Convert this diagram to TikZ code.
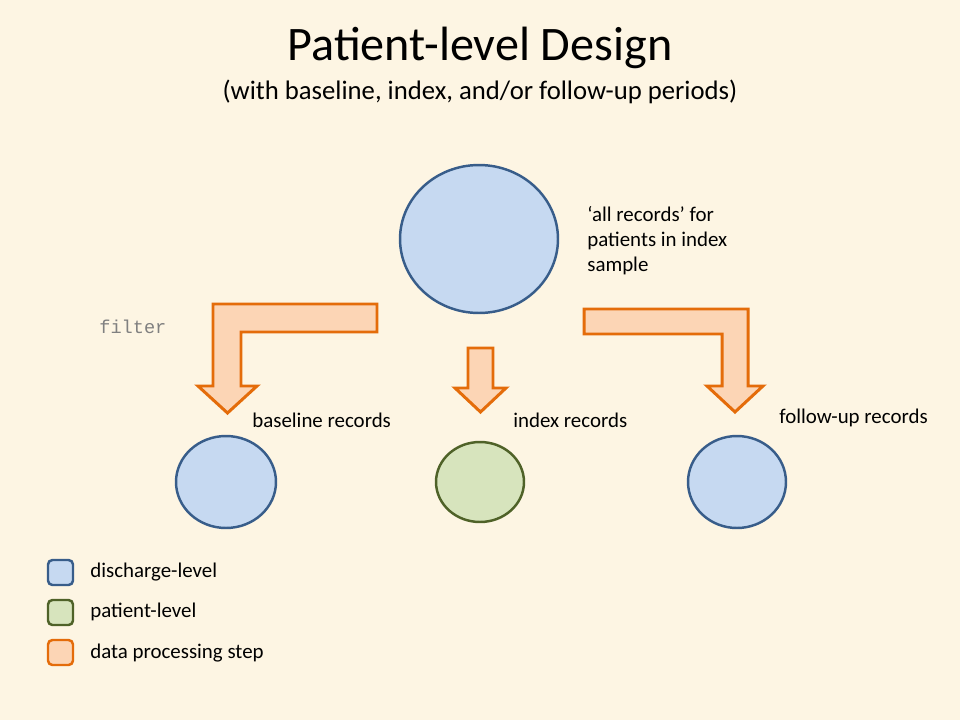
\documentclass[tikz,border=0pt]{standalone}
\usepackage{fontspec}
\setmainfont{Carlito}
\setmonofont{Liberation Mono}
\usetikzlibrary{shapes.geometric, positioning}
\definecolor{paper}{HTML}{FDF5E3}
\definecolor{dischargefill}{HTML}{C6D9F1}
\definecolor{dischargeline}{HTML}{385D8A}
\definecolor{patientfill}{HTML}{D7E4BD}
\definecolor{patientline}{HTML}{4F6228}
\definecolor{stepfill}{HTML}{FCD5B5}
\definecolor{stepline}{HTML}{E46C0A}
\tikzset{
x=0.02cm, y=-0.02cm, % one unit is one pixel of the slide, y runs down
discharge/.style={ellipse, draw=dischargeline, fill=dischargefill, line width=1.4pt, inner sep=0pt}, % discharge-level table
patient/.style={ellipse, draw=patientline, fill=patientfill, line width=1.4pt, inner sep=0pt}, % patient-level table
stepshape/.style={draw=stepline, fill=stepfill, line width=1.7pt, line join=miter}, % block arrow for a processing step
keybox/.style={rectangle, rounded corners=2.5pt, line width=1.4pt, minimum size=0.5cm, inner sep=0pt}, % legend square
label/.style={font=\fontsize{11.9}{14.2}\selectfont, inner sep=0pt, anchor=west}, % plain text next to shapes
}

\begin{document}
\begin{tikzpicture}
\useasboundingbox[fill=paper] (0,0) rectangle (960,720);

\node at (480,48) (title) {\fontsize{27.4}{33}\selectfont Patient-level Design};
\node at (480,92) (subtitle) {\fontsize{15.2}{18}\selectfont (with baseline, index, and/or follow-up periods)};

\node[discharge, minimum width=3.16cm, minimum height=2.96cm] at (479,239) (all) {};
\node[label, align=left, anchor=north west] at (587,206) (alltext) {‘all records’ for\\patients in index\\sample};

\node[discharge, minimum width=2.0cm, minimum height=1.84cm] at (226,482) (base) {};
\node[patient, minimum width=1.76cm, minimum height=1.6cm] at (480,482) (index) {};
\node[discharge, minimum width=1.96cm, minimum height=1.84cm] at (737,482) (follow) {};

\node[label] at (252,420) (basetext) {baseline records};
\node[label] at (513,420) (indextext) {index records};
\node[label] at (779,418) (followtext) {follow-up records};
\node[label, font=\ttfamily\fontsize{10.6}{13}\selectfont, text=gray] at (99,327) (filter) {filter};

% block arrows from the top table to the three periods
\draw[stepshape] (377,304) -- (213,304) -- (213,386) -- (198,386) -- (227.5,413) -- (257,386) -- (241,386) -- (241,332) -- (377,332) -- cycle;
\draw[stepshape] (468,348) -- (493,348) -- (493,388) -- (506,388) -- (480.5,412) -- (455,388) -- (468,388) -- cycle;
\draw[stepshape] (584,309) -- (748,309) -- (748,386) -- (763,386) -- (735,412) -- (707,386) -- (722,386) -- (722,334) -- (584,334) -- cycle;

% legend
\node[keybox, draw=dischargeline, fill=dischargefill] at (60.5,572.5) (key1) {};
\node[keybox, draw=patientline, fill=patientfill] at (60.5,612.5) (key2) {};
\node[keybox, draw=stepline, fill=stepfill] at (60.5,652.5) (key3) {};
\node[label] at (90,572) (keytext1) {discharge-level};
\node[label] at (90,612) (keytext2) {patient-level};
\node[label] at (90,653) (keytext3) {data processing step};
\end{tikzpicture}
\end{document}
